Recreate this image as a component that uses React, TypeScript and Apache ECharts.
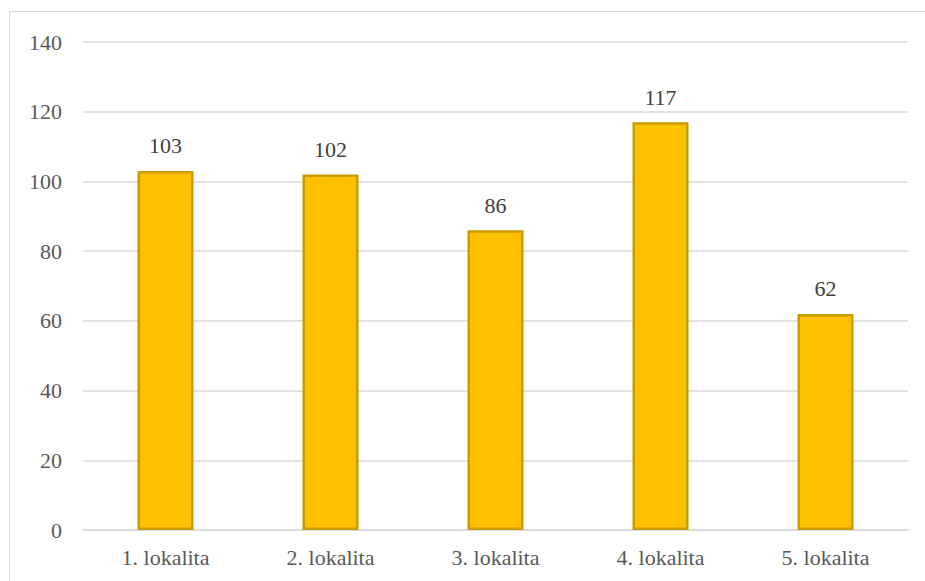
import React, { useEffect, useRef } from "react";
import * as echarts from "echarts";

const categories = ["1. lokalita", "2. lokalita", "3. lokalita", "4. lokalita", "5. lokalita"];
const values = [103, 102, 86, 117, 62];
const yTicks = { min: 0, max: 140, interval: 20 };

const FONT = "'Liberation Serif', 'Times New Roman', serif";

export default function App() {
  const ref = useRef<HTMLDivElement>(null);

  useEffect(() => {
    if (!ref.current) return;
    const chart = echarts.init(ref.current, undefined, { renderer: "svg" });
    chart.setOption({
      animation: false,
      backgroundColor: "transparent",
      textStyle: { fontFamily: FONT },
      grid: { left: 83, right: 17, top: 42, bottom: 51 },
      xAxis: {
        type: "category",
        data: categories,
        axisTick: { show: false },
        axisLine: { show: true, lineStyle: { color: "#D9D9D9", width: 1.5 } },
        axisLabel: { color: "#595959", fontFamily: FONT, fontSize: 22, margin: 16, interval: 0 },
      },
      yAxis: {
        type: "value",
        min: yTicks.min,
        max: yTicks.max,
        interval: yTicks.interval,
        axisLine: { show: false },
        axisTick: { show: false },
        splitLine: { lineStyle: { color: "#D9D9D9", width: 1.5 } },
        axisLabel: { color: "#595959", fontFamily: FONT, fontSize: 22, margin: 21 },
      },
      series: [
        {
          type: "bar",
          data: values,
          barWidth: 56,
          itemStyle: { color: "#FFC000", borderColor: "#C99C00", borderWidth: 2.5 },
          label: {
            show: true,
            position: "top",
            distance: 14,
            color: "#404040",
            fontFamily: FONT,
            fontSize: 22,
          },
        },
      ],
    });
    return () => chart.dispose();
  }, []);

  return (
    <div
      style={{
        position: "fixed",
        left: 0,
        top: 0,
        width: 925,
        height: 581,
        background: "#ffffff",
        overflow: "hidden",
      }}
    >
      {/* chart frame: only its left and top edges fall inside the page */}
      <div
        style={{
          position: "absolute",
          left: 9,
          top: 11,
          width: 1000,
          height: 1000,
          borderLeft: "1.5px solid #D9D9D9",
          borderTop: "1.5px solid #D9D9D9",
        }}
      />
      <div ref={ref} style={{ position: "absolute", left: 0, top: 0, width: 925, height: 581 }} />
    </div>
  );
}
